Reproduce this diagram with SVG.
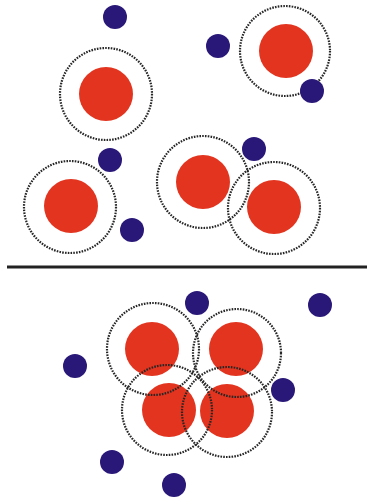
<svg xmlns="http://www.w3.org/2000/svg" width="367" height="502" viewBox="0 0 367 502">
<style>
.red{fill:#e2341f}
.blue{fill:#2a1878}
.ring{fill:none;stroke:#262626;stroke-width:2.2;stroke-dasharray:1.6 1.2}
</style>
<rect width="367" height="502" fill="#fff"/>
<g id="top">
<g id="b1"><circle class="blue" cx="115" cy="17" r="12"/></g>
<g id="b2"><circle class="blue" cx="218" cy="46" r="12"/></g>
<g id="a1"><circle class="red" cx="286" cy="51" r="27"/><circle class="ring" cx="285" cy="51" r="45"/></g>
<g id="b3"><circle class="blue" cx="312" cy="91" r="12"/></g>
<g id="a2"><circle class="red" cx="106" cy="94" r="27"/><circle class="ring" cx="106" cy="94" r="46"/></g>
<g id="b4"><circle class="blue" cx="110" cy="160" r="12"/></g>
<g id="a3"><circle class="red" cx="71" cy="206" r="27"/><circle class="ring" cx="70" cy="207" r="46"/></g>
<g id="b5"><circle class="blue" cx="132" cy="230" r="12"/></g>
<g id="a4"><circle class="red" cx="203" cy="182" r="27"/><circle class="ring" cx="203" cy="182" r="46"/></g>
<g id="b6"><circle class="blue" cx="254" cy="149" r="12"/></g>
<g id="a5"><circle class="red" cx="274" cy="207" r="27"/><circle class="ring" cx="274" cy="208" r="46"/></g>
</g>
<g id="divider"><line x1="7" y1="267" x2="367" y2="267" stroke="#222" stroke-width="3"/></g>
<g id="bottom">
<g id="b7"><circle class="blue" cx="197" cy="303" r="12"/></g>
<g id="b8"><circle class="blue" cx="320" cy="305" r="12"/></g>
<g id="b9"><circle class="blue" cx="75" cy="366" r="12"/></g>
<g id="b10"><circle class="blue" cx="283" cy="390" r="12"/></g>
<g id="b11"><circle class="blue" cx="112" cy="462" r="12"/></g>
<g id="b12"><circle class="blue" cx="174" cy="485" r="12"/></g>
<circle class="red" cx="152" cy="349" r="27"/>
<circle class="red" cx="236" cy="349" r="27"/>
<circle class="red" cx="169" cy="410" r="27"/>
<circle class="red" cx="227" cy="411" r="27"/>
<g id="c1"><circle class="ring" cx="153" cy="349" r="46"/></g>
<g id="c2"><circle class="ring" cx="237" cy="353" r="44"/></g>
<g id="c3"><circle class="ring" cx="167" cy="410" r="45"/></g>
<g id="c4"><circle class="ring" cx="227" cy="412" r="45"/></g>
</g>
</svg>
